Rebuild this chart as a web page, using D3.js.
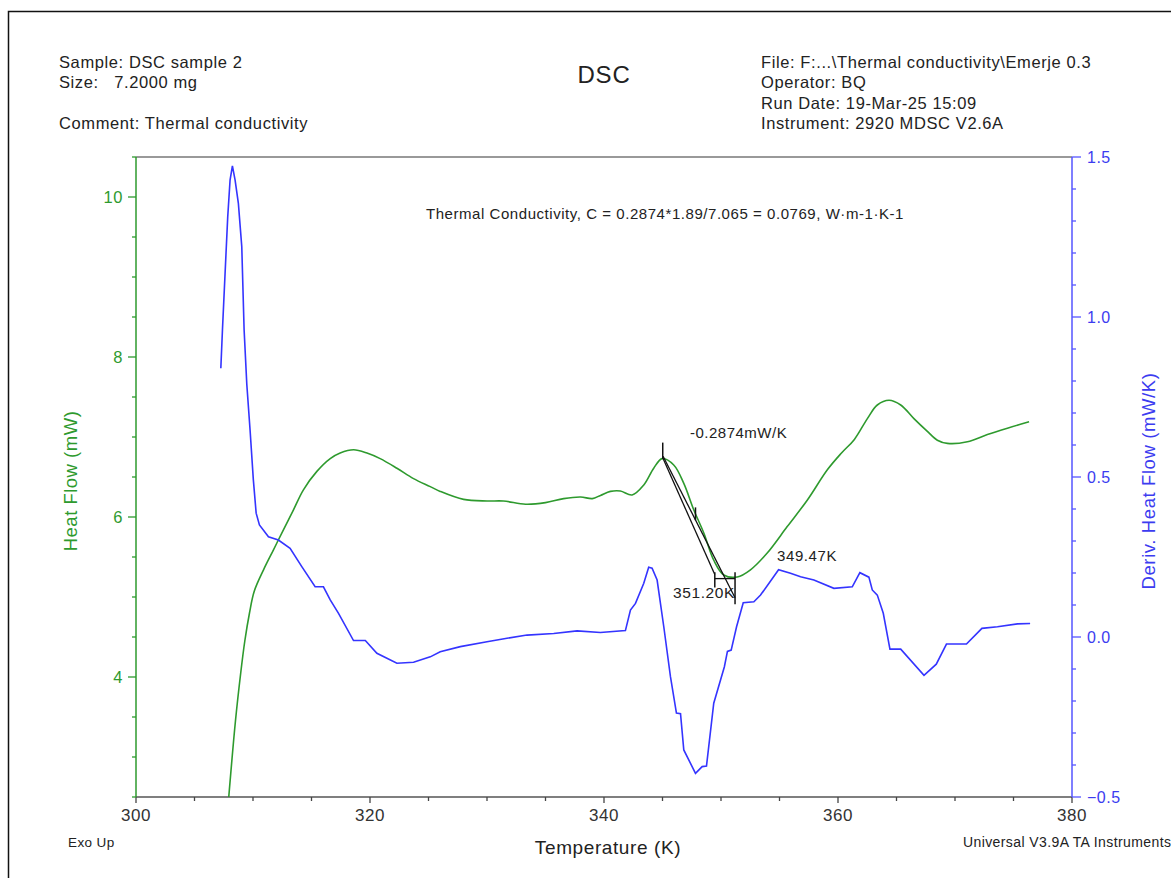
<!DOCTYPE html>
<html>
<head>
<meta charset="utf-8">
<script src="https://cdn.jsdelivr.net/npm/d3@7"></script>
<style>
  body { margin: 0; background: #fff; }
  text { font-family: "Liberation Sans", Arial, sans-serif; }
</style>
</head>
<body>
<script>
// heat flow (left axis, mW)
var heatT = [307.9, 308.5, 308.95, 309.3, 309.7, 310.1, 310.9, 311.75, 312.6, 313.46, 314.31, 315.46, 316.6, 317.45, 318.6, 319.74, 320.87, 322.3, 323.72, 325.15, 326.0, 328.0, 330.0, 331.4, 333.3, 335.0, 336.55, 338.0, 339.0, 339.7, 340.55, 341.4, 342.4, 343.4, 344.25, 344.97, 345.96, 346.82, 347.67, 348.53, 349.38, 350.24, 351.39, 352.52, 353.95, 355.66, 357.37, 359.09, 360.3, 361.4, 362.51, 363.36, 364.36, 365.36, 366.49, 367.64, 368.49, 369.35, 371.06, 372.77, 374.48, 376.33];
var heatFlow = [2.45, 3.45, 4.05, 4.45, 4.8, 5.07, 5.34, 5.59, 5.84, 6.09, 6.34, 6.57, 6.73, 6.80, 6.84, 6.80, 6.73, 6.61, 6.48, 6.38, 6.32, 6.22, 6.2, 6.2, 6.16, 6.18, 6.23, 6.25, 6.23, 6.27, 6.32, 6.325, 6.275, 6.40, 6.61, 6.73, 6.65, 6.42, 6.09, 5.80, 5.46, 5.275, 5.25, 5.34, 5.55, 5.88, 6.21, 6.59, 6.80, 6.97, 7.23, 7.40, 7.46, 7.40, 7.23, 7.07, 6.96, 6.92, 6.94, 7.03, 7.11, 7.19];

// derivative heat flow (right axis, mW/K)
var derivT = [307.25, 307.39, 307.6, 307.84, 308.04, 308.24, 308.47, 308.75, 309.04, 309.24, 309.47, 309.75, 310.03, 310.27, 310.55, 311.32, 312.17, 313.17, 314.17, 315.31, 316.02, 316.6, 317.31, 318.59, 319.6, 320.59, 322.3, 323.72, 325.15, 326.0, 327.72, 330.0, 331.71, 333.42, 335.7, 337.7, 339.69, 341.83, 342.26, 342.69, 343.4, 343.82, 344.11, 344.54, 345.11, 345.68, 346.19, 346.54, 346.82, 347.82, 348.39, 348.76, 349.38, 350.29, 350.55, 350.87, 351.33, 351.9, 352.81, 353.38, 354.92, 355.94, 356.8, 357.94, 359.65, 361.22, 361.87, 362.64, 362.93, 363.36, 363.87, 364.44, 365.36, 367.35, 368.4, 369.27, 370.98, 372.3, 373.63, 375.34, 376.42];
var derivFlow = [0.84, 0.96, 1.126, 1.313, 1.428, 1.472, 1.428, 1.355, 1.22, 0.96, 0.79, 0.647, 0.491, 0.387, 0.35, 0.313, 0.303, 0.277, 0.22, 0.157, 0.157, 0.116, 0.074, -0.011, -0.011, -0.051, -0.082, -0.079, -0.062, -0.046, -0.03, -0.015, -0.004, 0.006, 0.011, 0.019, 0.014, 0.02, 0.084, 0.105, 0.168, 0.218, 0.215, 0.178, 0.032, -0.124, -0.238, -0.24, -0.353, -0.426, -0.405, -0.403, -0.207, -0.093, -0.045, -0.041, 0.032, 0.107, 0.11, 0.131, 0.21, 0.199, 0.188, 0.178, 0.152, 0.157, 0.201, 0.187, 0.147, 0.131, 0.074, -0.038, -0.038, -0.12, -0.085, -0.022, -0.022, 0.027, 0.032, 0.041, 0.042];

// tick values
var xTicks = [300, 320, 340, 360, 380];
var leftTicks = [4, 6, 8, 10];
var rightTicks = [-0.5, 0.0, 0.5, 1.0, 1.5];

// thermal conductivity construction (K, mW)
var tangentLine = [[345.05, 6.76], [351.20, 4.99]];
var chordLine = [[345.02, 6.74], [349.47, 5.28]];
var markTicks = [[345.02, 6.93, 6.73], [347.82, 6.12, 5.96], [349.47, 5.31, 5.12], [351.20, 5.31, 4.91]];
var bracketLine = [[349.47, 5.23], [351.20, 5.23]];

var headerLeft = ["Sample: DSC sample 2", "Size:   7.2000 mg", "", "Comment: Thermal conductivity"];
var headerRight = ["File: F:...\\Thermal conductivity\\Emerje 0.3", "Operator: BQ", "Run Date: 19-Mar-25 15:09", "Instrument: 2920 MDSC V2.6A"];

var green = "#2e9a2e", blue = "#3434ff", axisBlue = "#5555ff", textBlue = "#3c3cf0";

var svg = d3.select("body").append("svg")
    .attr("width", 1171)
    .attr("height", 878);

// page frame
svg.append("rect")
    .attr("x", 8.5).attr("y", 11.5)
    .attr("width", 1200).attr("height", 900)
    .attr("fill", "none").attr("stroke", "#111").attr("stroke-width", 1.5);

var pLeft = 136, pRight = 1072, pTop = 157, pBottom = 797;

var x = d3.scaleLinear().domain([300, 380]).range([pLeft, pRight]);
var yL = d3.scaleLinear().domain([2.5, 10.5]).range([pBottom, pTop]);
var yR = d3.scaleLinear().domain([-0.5, 1.5]).range([pBottom, pTop]);

// header text
svg.append("g").selectAll("text")
    .data(headerLeft)
  .enter().append("text")
    .attr("x", 59)
    .attr("y", function(d, i) { return 68 + i * 20.3; })
    .attr("font-size", 16.5)
    .attr("letter-spacing", 0.6)
    .attr("fill", "#222")
    .style("white-space", "pre")
    .text(function(d) { return d; });

svg.append("g").selectAll("text")
    .data(headerRight)
  .enter().append("text")
    .attr("x", 761)
    .attr("y", function(d, i) { return 68 + i * 20.3; })
    .attr("font-size", 16.5)
    .attr("letter-spacing", 0.6)
    .attr("fill", "#222")
    .text(function(d) { return d; });

svg.append("text")
    .attr("x", 604).attr("y", 83)
    .attr("text-anchor", "middle")
    .attr("font-size", 24)
    .attr("letter-spacing", 0.8)
    .attr("fill", "#222")
    .text("DSC");

// top frame line
svg.append("line")
    .attr("x1", pLeft).attr("x2", pRight)
    .attr("y1", pTop).attr("y2", pTop)
    .attr("stroke", "#777").attr("stroke-width", 1.5);

// x axis
var xAxis = svg.append("g")
    .attr("transform", "translate(0," + pBottom + ")");
xAxis.append("line")
    .attr("x1", pLeft).attr("x2", pRight)
    .attr("stroke", "#555").attr("stroke-width", 1.5);
xAxis.selectAll(".minor")
    .data(d3.range(300, 381, 5))
  .enter().append("line")
    .attr("x1", function(d) { return x(d); })
    .attr("x2", function(d) { return x(d); })
    .attr("y1", 0)
    .attr("y2", function(d) { return d % 20 === 0 ? 6 : 4; })
    .attr("stroke", "#444").attr("stroke-width", 1.3);
xAxis.selectAll(".lbl")
    .data(xTicks)
  .enter().append("text")
    .attr("x", function(d) { return x(d); })
    .attr("y", 24)
    .attr("text-anchor", "middle")
    .attr("font-size", 17)
    .attr("letter-spacing", 0.6)
    .attr("fill", "#333")
    .text(function(d) { return d; });

// left axis (heat flow)
var lAxis = svg.append("g").attr("transform", "translate(" + pLeft + ",0)");
lAxis.append("line")
    .attr("y1", pTop).attr("y2", pBottom)
    .attr("stroke", green).attr("stroke-width", 1.5);
lAxis.selectAll(".tick")
    .data(d3.range(2.5, 10.51, 0.5))
  .enter().append("line")
    .attr("y1", function(d) { return yL(d); })
    .attr("y2", function(d) { return yL(d); })
    .attr("x1", function(d) { return d % 2 === 0 ? -8 : -4; })
    .attr("x2", 0)
    .attr("stroke", green).attr("stroke-width", 1.3);
lAxis.selectAll(".lbl")
    .data(leftTicks)
  .enter().append("text")
    .attr("x", -13)
    .attr("y", function(d) { return yL(d) + 6; })
    .attr("text-anchor", "end")
    .attr("font-size", 16.5)
    .attr("letter-spacing", 0.6)
    .attr("fill", green)
    .text(function(d) { return d; });

// right axis (derivative)
var rAxis = svg.append("g").attr("transform", "translate(" + pRight + ",0)");
rAxis.append("line")
    .attr("y1", pTop).attr("y2", pBottom)
    .attr("stroke", axisBlue).attr("stroke-width", 1.5);
rAxis.selectAll(".tick")
    .data(d3.range(-5, 16, 1))
  .enter().append("line")
    .attr("y1", function(d) { return yR(d / 10); })
    .attr("y2", function(d) { return yR(d / 10); })
    .attr("x1", 0)
    .attr("x2", function(d) { return d % 5 === 0 ? 9 : 4; })
    .attr("stroke", axisBlue).attr("stroke-width", 1.3);
rAxis.selectAll(".lbl")
    .data(rightTicks)
  .enter().append("text")
    .attr("x", 15)
    .attr("y", function(d) { return yR(d) + 6; })
    .attr("font-size", 16)
    .attr("letter-spacing", 0.5)
    .attr("fill", textBlue)
    .text(function(d) { return d3.format(".1f")(d); });

// axis titles
svg.append("text")
    .attr("transform", "translate(77,481) rotate(-90)")
    .attr("text-anchor", "middle")
    .attr("font-size", 18.5)
    .attr("letter-spacing", 0.5)
    .attr("fill", green)
    .text("Heat Flow (mW)");

svg.append("text")
    .attr("transform", "translate(1155,481) rotate(-90)")
    .attr("text-anchor", "middle")
    .attr("font-size", 18.5)
    .attr("letter-spacing", 0.6)
    .attr("fill", textBlue)
    .text("Deriv. Heat Flow (mW/K)");

svg.append("text")
    .attr("x", 608).attr("y", 854)
    .attr("text-anchor", "middle")
    .attr("font-size", 19)
    .attr("letter-spacing", 0.6)
    .attr("fill", "#222")
    .text("Temperature (K)");

svg.append("text")
    .attr("x", 68).attr("y", 847)
    .attr("font-size", 13.5)
    .attr("letter-spacing", 0.4)
    .attr("fill", "#222")
    .text("Exo Up");

svg.append("text")
    .attr("x", 963).attr("y", 847)
    .attr("font-size", 14)
    .attr("letter-spacing", 0.4)
    .attr("fill", "#222")
    .text("Universal V3.9A TA Instruments");

// clip to plot area
svg.append("clipPath").attr("id", "plot")
  .append("rect")
    .attr("x", pLeft).attr("y", pTop)
    .attr("width", pRight - pLeft).attr("height", pBottom - pTop);

var heatData = heatT.map(function(t, i) { return [t, heatFlow[i]]; });
var derivData = derivT.map(function(t, i) { return [t, derivFlow[i]]; });

var heatLine = d3.line()
    .x(function(d) { return x(d[0]); })
    .y(function(d) { return yL(d[1]); })
    .curve(d3.curveCatmullRom);

var derivLine = d3.line()
    .x(function(d) { return x(d[0]); })
    .y(function(d) { return yR(d[1]); });

var plot = svg.append("g").attr("clip-path", "url(#plot)");

plot.append("path")
    .datum(heatData)
    .attr("d", heatLine)
    .attr("fill", "none")
    .attr("stroke", green)
    .attr("stroke-width", 1.6);

plot.append("path")
    .datum(derivData)
    .attr("d", derivLine)
    .attr("fill", "none")
    .attr("stroke", blue)
    .attr("stroke-width", 1.6);

// construction lines
var flatLine = d3.line()
    .x(function(d) { return x(d[0]); })
    .y(function(d) { return yL(d[1]); });

[tangentLine, chordLine, bracketLine].forEach(function(seg) {
  plot.append("path")
      .datum(seg)
      .attr("d", flatLine)
      .attr("fill", "none")
      .attr("stroke", "#111")
      .attr("stroke-width", 1.3);
});

plot.selectAll(".mark")
    .data(markTicks)
  .enter().append("line")
    .attr("x1", function(d) { return x(d[0]); })
    .attr("x2", function(d) { return x(d[0]); })
    .attr("y1", function(d) { return yL(d[1]); })
    .attr("y2", function(d) { return yL(d[2]); })
    .attr("stroke", "#111")
    .attr("stroke-width", 1.5);

svg.append("text")
    .attr("x", 426).attr("y", 219)
    .attr("font-size", 15)
    .attr("letter-spacing", 0.55)
    .attr("fill", "#222")
    .text("Thermal Conductivity, C = 0.2874*1.89/7.065 = 0.0769, W\u00b7m-1\u00b7K-1");

svg.append("text")
    .attr("x", 690).attr("y", 438)
    .attr("font-size", 15)
    .attr("letter-spacing", 0.5)
    .attr("fill", "#222")
    .text("-0.2874mW/K");

svg.append("text")
    .attr("x", 673).attr("y", 598)
    .attr("font-size", 15.5)
    .attr("letter-spacing", 0.6)
    .attr("fill", "#222")
    .text("351.20K");

svg.append("text")
    .attr("x", 777).attr("y", 561)
    .attr("font-size", 15)
    .attr("letter-spacing", 0.6)
    .attr("fill", "#222")
    .text("349.47K");
</script>
</body>
</html>
